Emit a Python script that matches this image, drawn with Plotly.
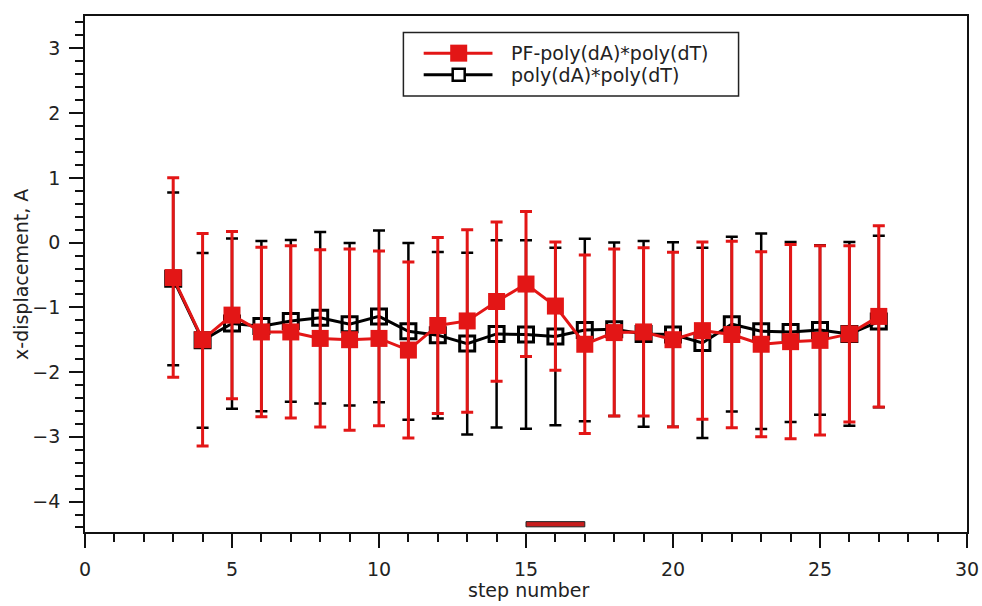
import plotly.graph_objects as go

# step numbers and x-displacement (A) with error half-widths
steps = list(range(3, 28))

pf_mean = [-0.54, -1.50, -1.12, -1.38, -1.38, -1.48, -1.50, -1.48, -1.66, -1.28,
           -1.21, -0.91, -0.64, -0.98, -1.57, -1.39, -1.38, -1.50, -1.36, -1.42,
           -1.57, -1.53, -1.51, -1.41, -1.14]
pf_err = [1.54, 1.64, 1.29, 1.31, 1.33, 1.37, 1.40, 1.35, 1.36, 1.36,
          1.41, 1.23, 1.12, 0.99, 1.38, 1.29, 1.30, 1.35, 1.37, 1.44,
          1.43, 1.50, 1.46, 1.36, 1.40]

ref_mean = [-0.56, -1.51, -1.25, -1.29, -1.21, -1.16, -1.26, -1.14, -1.37, -1.43,
            -1.56, -1.41, -1.42, -1.45, -1.35, -1.34, -1.41, -1.42, -1.55, -1.26,
            -1.37, -1.38, -1.35, -1.41, -1.22]
ref_err = [1.335, 1.35, 1.315, 1.315, 1.25, 1.325, 1.255, 1.325, 1.365, 1.285,
           1.405, 1.445, 1.455, 1.37, 1.41, 1.34, 1.435, 1.425, 1.47, 1.35,
           1.51, 1.39, 1.31, 1.42, 1.325]

series_names = ["PF-poly(dA)*poly(dT)", "poly(dA)*poly(dT)"]
highlight_steps = [15, 17]

RED = "#e31616"
BLACK = "#000000"
FONT = "DejaVu Sans"
TXT = "#222222"

fig = go.Figure()

fig.add_trace(go.Scatter(
    x=steps, y=ref_mean, mode="lines+markers", name=series_names[1],
    line=dict(color=BLACK, width=3),
    marker=dict(symbol="square-open", size=15, color=BLACK, line=dict(width=3, color=BLACK)),
    error_y=dict(type="data", array=ref_err, visible=True, color=BLACK, thickness=2.5, width=6),
    showlegend=False,
))
fig.add_trace(go.Scatter(
    x=steps, y=pf_mean, mode="lines+markers", name=series_names[0],
    line=dict(color=RED, width=3),
    marker=dict(symbol="square", size=17, color=RED, line=dict(width=0)),
    error_y=dict(type="data", array=pf_err, visible=True, color=RED, thickness=3, width=6),
    showlegend=False,
))

shapes = []
# highlighted step interval just above the x axis
shapes.append(dict(type="rect", xref="x", yref="y",
                   x0=highlight_steps[0], x1=highlight_steps[1], y0=-4.39, y1=-4.31,
                   fillcolor="#c81e1e", line=dict(color="#222222", width=1)))

# legend box
lx0, lx1, ly0, ly1 = 0.361, 0.741, 0.845, 0.968
shapes.append(dict(type="rect", xref="paper", yref="paper", x0=lx0, x1=lx1, y0=ly0, y1=ly1,
                   fillcolor="white", line=dict(color="#222222", width=1.5), layer="above"))
row_y = [0.928, 0.886]
seg_x0, seg_x1, mark_x = 0.384, 0.462, 0.4237
for yy, col, w in [(row_y[0], RED, 3), (row_y[1], BLACK, 3)]:
    shapes.append(dict(type="line", xref="paper", yref="paper", x0=seg_x0, x1=seg_x1,
                       y0=yy, y1=yy, line=dict(color=col, width=w), layer="above"))
shapes.append(dict(type="rect", xref="paper", yref="paper", xsizemode="pixel", ysizemode="pixel",
                   xanchor=mark_x, yanchor=row_y[0], x0=-8.5, x1=8.5, y0=-8.5, y1=8.5,
                   fillcolor=RED, line=dict(width=0), layer="above"))
shapes.append(dict(type="rect", xref="paper", yref="paper", xsizemode="pixel", ysizemode="pixel",
                   xanchor=mark_x, yanchor=row_y[1], x0=-6, x1=6, y0=-6, y1=6,
                   fillcolor="white", line=dict(color=BLACK, width=2.5), layer="above"))

annotations = []
for yy, name in zip(row_y, series_names):
    annotations.append(dict(xref="paper", yref="paper", x=0.481, y=yy, text=name,
                            showarrow=False, xanchor="left", yanchor="middle",
                            font=dict(family=FONT, size=19, color=TXT)))
annotations.append(dict(xref="paper", yref="paper", x=-0.0726, y=0.5, text="x-displacement, A",
                        textangle=-90, showarrow=False, xanchor="center", yanchor="middle",
                        font=dict(family=FONT, size=19, color=TXT)))
annotations.append(dict(xref="paper", yref="paper", x=0.503, y=-0.112, text="step number",
                        showarrow=False, xanchor="center", yanchor="middle",
                        font=dict(family=FONT, size=19, color=TXT)))

axis_common = dict(showgrid=False, zeroline=False, showline=True, linecolor="#111111",
                   linewidth=1.8, mirror=True, ticks="outside", ticklen=14, tickwidth=1.8,
                   tickcolor="#111111", automargin=False,
                   tickfont=dict(family=FONT, size=19, color=TXT))

fig.update_layout(
    width=982, height=606,
    margin=dict(l=85, r=15, t=16, b=74),
    paper_bgcolor="white", plot_bgcolor="white",
    shapes=shapes, annotations=annotations,
    xaxis=dict(range=[0, 30], dtick=5, tick0=0, ticklabelstandoff=5,
               minor=dict(dtick=1, ticks="outside", ticklen=8, tickwidth=1.8, tickcolor="#111111"),
               **axis_common),
    yaxis=dict(range=[-4.47, 3.5], dtick=1, tick0=0, ticklabelstandoff=5,
               minor=dict(dtick=0.2, tick0=0, ticks="outside", ticklen=8, tickwidth=1.8, tickcolor="#111111"),
               **axis_common),
)

fig.write_html("out.html")
